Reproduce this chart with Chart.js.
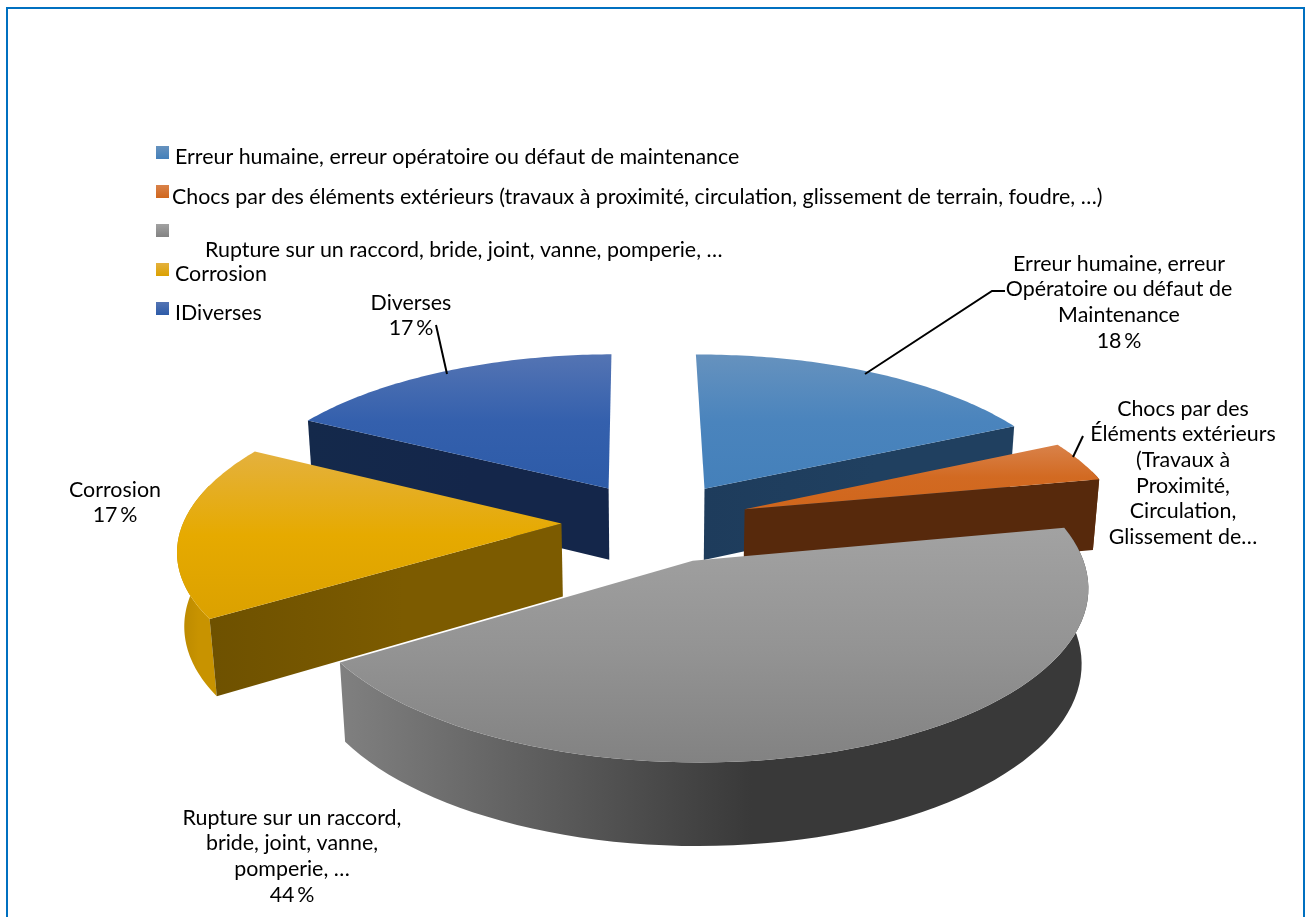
<!DOCTYPE html>
<html>
<head>
<meta charset="utf-8">
<title>Causes</title>
<script src="https://cdn.jsdelivr.net/npm/chart.js@4"></script>
<style>
  html, body { margin: 0; padding: 0; background: #fff; overflow: hidden; }
  #frame {
    position: absolute; left: 6px; top: 7px; width: 1295px; height: 910px;
    border: 2px solid #0070c0; border-bottom: none;
  }
  canvas { position: absolute; left: 0; top: 0; }
</style>
</head>
<body>
<div id="frame"></div>
<canvas id="pie" width="1309" height="917"></canvas>
<script>
const categories = [
  'Erreur humaine, erreur opératoire ou défaut de maintenance',
  'Chocs par des éléments extérieurs (travaux à proximité, circulation, glissement de terrain, foudre, …)',
  'Rupture sur un raccord, bride, joint, vanne, pomperie, …',
  'Corrosion',
  'IDiverses'
]
const values = [18, 4, 44, 17, 17]

// wrapped slice captions; the Chocs one is truncated and has no percentage
const captions = [
  ['Erreur humaine, erreur', 'Opératoire ou défaut de', 'Maintenance'],
  ['Chocs par des', 'Éléments extérieurs', '(Travaux à', 'Proximité,', 'Circulation,', 'Glissement de…'],
  ['Rupture sur un raccord,', 'bride, joint, vanne,', 'pomperie, …'],
  ['Corrosion'],
  ['Diverses']
]
const showPercent = [true, false, true, true, true]

const topColors = [
  ['#6692be', '#4a84bd', '#4480ba'],
  ['#d9824a', '#d26a22', '#d0661c'],
  ['#a2a2a2', '#949494', '#828282'],
  ['#e4b13e', '#e6aa00', '#dba100'],
  ['#5474b3', '#3460ad', '#2d5ba8']
]
const cutColors = [
  ['#1e3c5c', '#204060'],
  ['#57290c', '#57290c'],
  ['#555555', '#555555'],
  ['#6e5100', '#7c5b00'],
  ['#14294b', '#14264a']
]
const rimColors = [
  ['#2a527c', '#2a527c'],
  ['#7a3a10', '#7a3a10'],
  ['#808080', '#393939'],
  ['#b88700', '#c89300'],
  ['#1c3766', '#1c3766']
]

// where each piece of text goes
const legendRows = [
  { box: 146, text: 157, x: 175 },
  { box: 185, text: 197, x: 172 },
  { box: 224, text: 250, x: 205 },
  { box: 263, text: 274, x: 175 },
  { box: 302, text: 313, x: 175 }
]
const captionSpots = [
  { x: 1119, y: 264 },
  { x: 1183, y: 409 },
  { x: 292, y: 818 },
  { x: 115, y: 490 },
  { x: 411, y: 303 }
]
const leaderLines = [
  [[865, 374], [992, 291], [1005, 291]],
  [[1073, 457], [1083, 436]],
  [],
  [],
  [[447, 374], [436, 325]]
]

// perspective of the pie plane, unit radius
const view = { cx: 656, cy: 522, rx: 378, ry: 161.6, tilt: 0.14, depth: 74, shrink: 0.015, explode: 0.25 }
const FONT = '21.4px Lato'

function project(X, Y, Z) {
  const w = 1 - view.tilt * Y + view.shrink * Z
  return [view.cx + view.rx * X / w, view.cy + (view.ry * Y + view.depth * Z) / w]
}

// arc angles are the controller's, measured from 3 o'clock
function slicePoint(arc, angle, r, z) {
  const mid = (arc.startAngle + arc.endAngle) / 2
  return project(
    r * Math.cos(angle) + view.explode * Math.cos(mid),
    r * Math.sin(angle) + view.explode * Math.sin(mid),
    z
  )
}

// the part of the rim turned towards the viewer
function rimAngles(arc) {
  const out = []
  const steps = 72
  for (let i = 0; i <= steps; i++) {
    const angle = arc.startAngle + (arc.endAngle - arc.startAngle) * i / steps
    out.push(angle)
  }
  return out
}

function fillPoly(ctx, pts, style) {
  ctx.beginPath()
  pts.forEach((p, i) => i ? ctx.lineTo(p[0], p[1]) : ctx.moveTo(p[0], p[1]))
  ctx.closePath()
  ctx.fillStyle = style
  ctx.fill()
}

function sideGradient(ctx, pts, colors) {
  const xs = pts.map(p => p[0])
  const g = ctx.createLinearGradient(Math.min(...xs), 0, Math.max(...xs), 0)
  g.addColorStop(0, colors[0])
  if (colors[0] !== colors[1]) g.addColorStop(0.55, colors[1])
  g.addColorStop(1, colors[1])
  return g
}

function cutFace(ctx, arc, angle, sign, colors) {
  const a = slicePoint(arc, angle, 0, 0)
  const b = slicePoint(arc, angle, 1, 0)
  const c = slicePoint(arc, angle, 1, 1)
  const d = slicePoint(arc, angle, 0, 1)
  const cross = (b[0] - a[0]) * (c[1] - a[1]) - (b[1] - a[1]) * (c[0] - a[0])
  // nearly edge-on faces would only leave a dark sliver
  if (cross * sign > 3000) fillPoly(ctx, [a, b, c, d], sideGradient(ctx, [a, b], colors))
}

function drawSlice(ctx, arc, i) {
  const angles = rimAngles(arc)
  const front = angles.filter(angle => Math.sin(angle) > -0.25)
  if (front.length > 1) {
    const wall = front.map(angle => slicePoint(arc, angle, 1, 0))
      .concat(front.slice().reverse().map(angle => slicePoint(arc, angle, 1, 1)))
    fillPoly(ctx, wall, sideGradient(ctx, wall, rimColors[i]))
  }
  cutFace(ctx, arc, arc.startAngle, -1, cutColors[i])
  cutFace(ctx, arc, arc.endAngle, 1, cutColors[i])

  const face = [slicePoint(arc, arc.startAngle, 0, 0)].concat(angles.map(angle => slicePoint(arc, angle, 1, 0)))
  const ys = face.map(p => p[1])
  const g = ctx.createLinearGradient(0, Math.min(...ys), 0, Math.max(...ys))
  g.addColorStop(0, topColors[i][0])
  g.addColorStop(0.5, topColors[i][1])
  g.addColorStop(1, topColors[i][2])
  fillPoly(ctx, face, g)
}

const pie3d = {
  id: 'pie3d',
  // the arcs only supply angles, faces are painted back to front here
  beforeDatasetDraw(chart) {
    const ctx = chart.ctx
    const arcs = chart.getDatasetMeta(0).data
    const depthOf = arc => Math.sin((arc.startAngle + arc.endAngle) / 2)
    const order = arcs.map((arc, i) => i).sort((p, q) => depthOf(arcs[p]) - depthOf(arcs[q]))
    ctx.save()
    order.forEach(i => drawSlice(ctx, arcs[i], i))
    ctx.restore()
    return false
  },
  afterDatasetsDraw(chart) {
    const ctx = chart.ctx
    ctx.save()
    ctx.font = FONT
    ctx.fillStyle = '#000'
    ctx.textBaseline = 'middle'

    categories.forEach((name, i) => {
      const row = legendRows[i]
      const g = ctx.createLinearGradient(0, row.box, 0, row.box + 13)
      g.addColorStop(0, topColors[i][0])
      g.addColorStop(1, topColors[i][2])
      ctx.fillStyle = g
      ctx.fillRect(156, row.box, 13, 13)
      ctx.fillStyle = '#000'
      ctx.textAlign = 'left'
      ctx.fillText(name, row.x, row.text)
    })

    ctx.textAlign = 'center'
    captions.forEach((lines, i) => {
      const all = showPercent[i] ? lines.concat(values[i] + '\u2009%') : lines
      all.forEach((line, n) => ctx.fillText(line, captionSpots[i].x, captionSpots[i].y + n * 25.6))
    })

    ctx.strokeStyle = '#000'
    ctx.lineWidth = 2
    leaderLines.forEach(line => {
      if (!line.length) return
      ctx.beginPath()
      line.forEach((p, n) => n ? ctx.lineTo(p[0], p[1]) : ctx.moveTo(p[0], p[1]))
      ctx.stroke()
    })
    ctx.restore()
  }
}

new Chart(document.getElementById('pie').getContext('2d'), {
  type: 'pie',
  data: {
    labels: categories,
    datasets: [{
      data: values,
      backgroundColor: topColors.map(c => c[1]),
      borderWidth: 0
    }]
  },
  options: {
    responsive: false,
    animation: false,
    events: [],
    rotation: -0.5,
    plugins: {
      legend: { display: false },
      tooltip: { enabled: false }
    }
  },
  plugins: [pie3d]
})
</script>
</body>
</html>
